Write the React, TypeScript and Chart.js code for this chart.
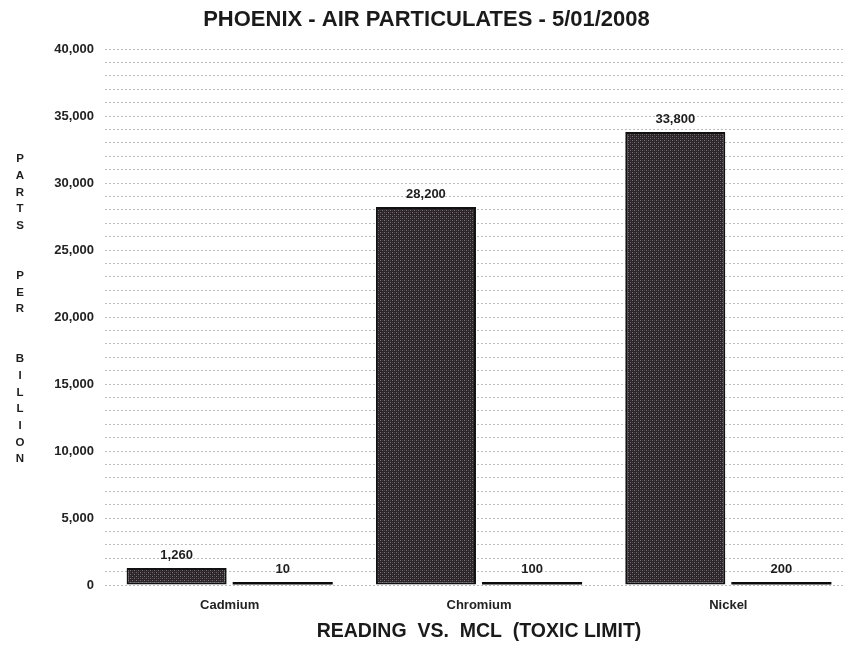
import React, { useEffect, useRef } from 'react';
import { Chart, registerables } from 'chart.js';

Chart.register(...registerables);

const categories = ['Cadmium', 'Chromium', 'Nickel'];
const readingValues = [1260, 28200, 33800];
const mclValues = [10, 100, 200];
const yAxisLetters = ['P', 'A', 'R', 'T', 'S', '', '', 'P', 'E', 'R', '', '', 'B', 'I', 'L', 'L', 'I', 'O', 'N'];
const titleText = 'PHOENIX - AIR PARTICULATES - 5/01/2008';
const xTitleText = 'READING  VS.  MCL  (TOXIC LIMIT)';

const FONT = "'Liberation Sans', Arial, sans-serif";

function makePattern(): CanvasPattern | string {
  const c = document.createElement('canvas');
  c.width = 4;
  c.height = 4;
  const g = c.getContext('2d');
  if (!g) return '#3a3238';
  g.fillStyle = '#2b2429';
  g.fillRect(0, 0, 4, 4);
  g.fillStyle = '#7a7077';
  g.fillRect(0, 0, 1, 1);
  g.fillRect(2, 2, 1, 1);
  g.fillStyle = '#4a4147';
  g.fillRect(2, 0, 1, 1);
  g.fillRect(0, 2, 1, 1);
  return g.createPattern(c, 'repeat') || '#3a3238';
}

const valueLabelPlugin = {
  id: 'valueLabels',
  afterDatasetsDraw(chart: any) {
    const ctx = chart.ctx;
    ctx.save();
    ctx.font = `bold 13px ${FONT}`;
    ctx.fillStyle = '#1e1e1e';
    ctx.textAlign = 'center';
    ctx.textBaseline = 'middle';
    chart.data.datasets.forEach((ds: any, di: number) => {
      const meta = chart.getDatasetMeta(di);
      meta.data.forEach((el: any, i: number) => {
        const v = ds.data[i] as number;
        ctx.fillText(v.toLocaleString('en-US'), el.x, el.y - 12.5);
      });
    });
    ctx.restore();
  },
};

const yLettersPlugin = {
  id: 'yLetters',
  afterDraw(chart: any) {
    const ctx = chart.ctx;
    ctx.save();
    ctx.font = `bold 11.5px ${FONT}`;
    ctx.fillStyle = '#1e1e1e';
    ctx.textAlign = 'center';
    ctx.textBaseline = 'middle';
    const step = 16.67;
    yAxisLetters.forEach((ch, i) => {
      if (ch) ctx.fillText(ch, 20, 159 + i * step);
    });
    ctx.restore();
  },
};

export default function App() {
  const ref = useRef<HTMLCanvasElement | null>(null);

  useEffect(() => {
    if (!ref.current) return;
    const pattern = makePattern();
    const chart = new Chart(ref.current, {
      type: 'bar',
      data: {
        labels: categories,
        datasets: [
          {
            label: 'Reading',
            data: readingValues,
            backgroundColor: pattern as any,
            borderColor: '#111111',
            borderWidth: 2,
            borderSkipped: false,
            categoryPercentage: 0.851,
            barPercentage: 0.943,
          },
          {
            label: 'MCL',
            data: mclValues,
            backgroundColor: '#0a0a0a',
            borderWidth: 0,
            minBarLength: 3,
            categoryPercentage: 0.851,
            barPercentage: 0.943,
          },
        ],
      },
      options: {
        responsive: false,
        animation: false,
        layout: { padding: 0 },
        plugins: {
          legend: { display: false },
          tooltip: { enabled: false },
          title: {
            display: true,
            text: titleText,
            color: '#1a1a1a',
            font: { family: FONT, size: 22, weight: 'bold' },
            padding: { top: 6.8, bottom: 15.8 },
          },
        },
        scales: {
          x: {
            afterFit: (s: any) => {
              s.height = 60;
            },
            grid: { display: false, drawTicks: false },
            border: { display: false },
            ticks: {
              color: '#222',
              font: { family: FONT, size: 13, weight: 'bold' },
              padding: 13,
            },
            title: {
              display: true,
              text: xTitleText,
              color: '#1a1a1a',
              font: { family: FONT, size: 19.5, weight: 'bold' },
              padding: { top: 4, bottom: 1.3 },
            },
          },
          y: {
            min: 0,
            max: 40000,
            afterFit: (s: any) => {
              s.width = 105;
            },
            ticks: {
              stepSize: 1000,
              autoSkip: false,
              color: '#222',
              padding: 11,
              font: { family: FONT, size: 13, weight: 'bold' },
              callback: (v: any) => (Number(v) % 5000 === 0 ? Number(v).toLocaleString('en-US') : ''),
            },
            grid: { color: '#bdbdbd', lineWidth: 1, drawTicks: false },
            border: { display: false, dash: [2, 2] },
          },
        },
      },
      plugins: [valueLabelPlugin, yLettersPlugin],
    });
    return () => chart.destroy();
  }, []);

  return (
    <div
      style={{
        position: 'absolute',
        left: 0,
        top: 0,
        width: 843,
        height: 645,
        overflow: 'hidden',
        background: '#ffffff',
      }}
    >
      <canvas ref={ref} width={853} height={645} style={{ display: 'block' }} />
    </div>
  );
}
